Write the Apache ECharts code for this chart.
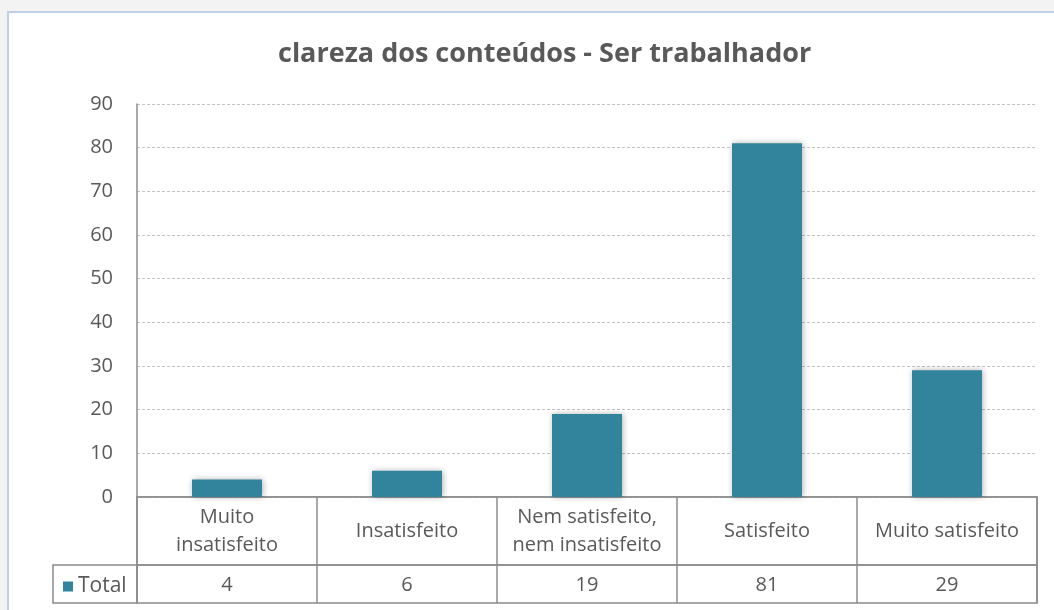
<!DOCTYPE html>
<html>
<head>
<meta charset="utf-8">
<script src="https://cdn.jsdelivr.net/npm/echarts@6/dist/echarts.min.js"></script>
<style>
    html, body { margin: 0; padding: 0; background: #f3f3f3; }
    #frame { position: absolute; left: 7px; top: 11px; width: 1100px; height: 700px; background: #fff; border: 2px solid #bdd0e6; }
    #chart { position: absolute; left: 0; top: 0; width: 1054px; height: 610px; }
</style>
</head>
<body>
<div id="frame"></div>
<div id="chart"></div>
<script>
const titleText = 'clareza dos conteúdos - Ser trabalhador';
const categories = ['Muito\ninsatisfeito', 'Insatisfeito', 'Nem satisfeito,\nnem insatisfeito', 'Satisfeito', 'Muito satisfeito'];
const totalValues = [4, 6, 19, 81, 29];
const seriesName = 'Total';

const font = 'Open Sans';
const textColor = '#595959';
const lineColor = '#8c8c8c';
const barColor = '#31849b';

const chart = echarts.init(document.getElementById('chart'));

const hiddenAxis = { show: false };
const tableLines = { show: true, lineStyle: { color: lineColor, width: 1.5, type: 'solid' } };

chart.setOption({
    animation: false,
    textStyle: { fontFamily: font },
    title: {
        text: titleText,
        left: 273,
        top: 36,
        textStyle: { fontSize: 27, fontWeight: 'bold', color: textColor, fontFamily: font }
    },
    legend: {
        data: [seriesName],
        left: 58,
        top: 571,
        icon: 'rect',
        itemWidth: 10,
        itemHeight: 10,
        itemGap: 6,
        textStyle: { fontSize: 21, color: textColor, fontFamily: font }
    },
    grid: [
        { left: 137, right: 17, top: 104, height: 393 },
        { left: 137, right: 17, top: 497, height: 68, show: true, borderColor: lineColor, borderWidth: 1.5 },
        { left: 137, right: 17, top: 565, height: 38, show: true, borderColor: lineColor, borderWidth: 1.5 },
        { left: 53, width: 84, top: 565, height: 38, show: true, borderColor: lineColor, borderWidth: 1.5 }
    ],
    xAxis: [
        {
            type: 'category', gridIndex: 0, data: categories,
            axisLine: { show: true, lineStyle: { color: lineColor, width: 1.5 } },
            axisTick: { show: false }, axisLabel: { show: false }
        },
        {
            type: 'category', gridIndex: 1, data: categories, position: 'top',
            axisLine: { show: false }, axisTick: { show: false },
            splitLine: tableLines,
            axisLabel: {
                inside: true, interval: 0, margin: 34, verticalAlign: 'middle',
                fontSize: 20, lineHeight: 28, color: textColor, fontFamily: font
            }
        },
        {
            type: 'category', gridIndex: 2, data: categories, position: 'top',
            axisLine: { show: false }, axisTick: { show: false },
            splitLine: tableLines,
            axisLabel: {
                inside: true, interval: 0, margin: 20, verticalAlign: 'middle',
                fontSize: 20, color: textColor, fontFamily: font,
                formatter: (v, i) => String(totalValues[i])
            }
        },
        { type: 'category', gridIndex: 3, data: [seriesName], ...hiddenAxis }
    ],
    yAxis: [
        {
            type: 'value', gridIndex: 0, min: 0, max: 90, interval: 10,
            axisLine: { show: true, lineStyle: { color: lineColor, width: 1.5 } },
            axisTick: { show: false },
            splitLine: { show: true, lineStyle: { color: '#c4c4c4', type: [3, 2], width: 1 } },
            axisLabel: { fontSize: 20, color: textColor, margin: 24, fontFamily: font }
        },
        { type: 'value', gridIndex: 1, ...hiddenAxis },
        { type: 'value', gridIndex: 2, ...hiddenAxis },
        { type: 'value', gridIndex: 3, ...hiddenAxis }
    ],
    series: [
        {
            name: seriesName,
            type: 'bar',
            xAxisIndex: 0,
            yAxisIndex: 0,
            data: totalValues,
            barWidth: 70,
            itemStyle: {
                color: barColor,
                shadowColor: 'rgba(0,0,0,0.3)',
                shadowBlur: 6,
                shadowOffsetX: 1
            }
        }
    ]
});
</script>
</body>
</html>
